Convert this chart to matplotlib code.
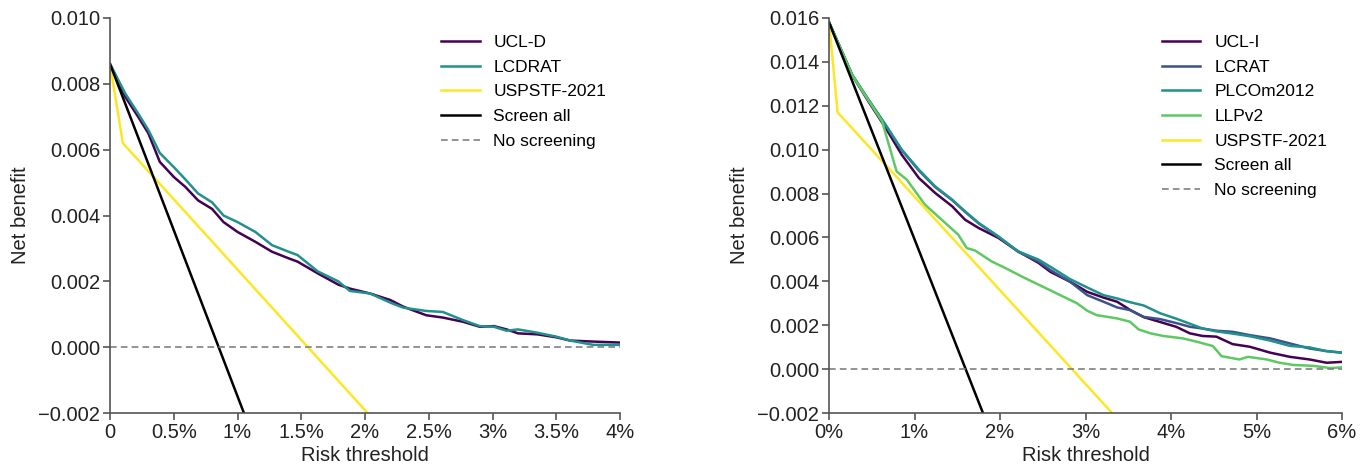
import matplotlib
matplotlib.use("Agg")
import matplotlib.pyplot as plt
from matplotlib.ticker import FuncFormatter

plt.rcParams['font.family'] = ['Liberation Sans', 'DejaVu Sans']

# ---- left panel data (risk threshold in %) ----
x_left = [0, 0.12, 0.22, 0.30, 0.39, 0.50, 0.59, 0.69, 0.80, 0.89, 1.00, 1.14, 1.27,
          1.40, 1.47, 1.63, 1.79, 1.88, 2.04, 2.20, 2.30, 2.48, 2.61, 2.77, 2.90,
          3.01, 3.11, 3.20, 3.35, 3.50, 3.61, 3.79, 4.00]
ucl_d = [0.0086, 0.0076, 0.0070, 0.0065, 0.00563, 0.00517, 0.00487, 0.00446, 0.0042,
         0.0038, 0.0035, 0.0032, 0.0029, 0.0027, 0.0026, 0.00224, 0.0019, 0.00178,
         0.00163, 0.00143, 0.00123, 0.00097, 0.0009, 0.00077, 0.00062, 0.00064,
         0.00054, 0.00042, 0.00039, 0.0003, 0.0002, 0.00017, 0.00014]
lcdrat = [0.0086, 0.0077, 0.0071, 0.0066, 0.0059, 0.00547, 0.0051, 0.00467, 0.0044,
          0.0040, 0.0038, 0.0035, 0.0031, 0.0029, 0.0028, 0.0023, 0.0020, 0.00171,
          0.00163, 0.00135, 0.0012, 0.0011, 0.00107, 0.00082, 0.00064, 0.00062,
          0.0005, 0.00054, 0.00044, 0.00032, 0.0002, 0.00007, 0.00007]
uspstf_left_x = [0, 0.1, 2.02]
uspstf_left = [0.0086, 0.0062, -0.002]
screen_left_x = [0, 1.05]
screen_left = [0.0086, -0.002]

# ---- right panel data ----
x_right = [0, 0.27, 0.46, 0.66, 0.85, 1.05, 1.24, 1.44, 1.59, 1.75, 1.98, 2.21, 2.45,
           2.59, 2.82, 3.02, 3.21, 3.37, 3.52, 3.68, 3.87, 4.06, 4.22, 4.37, 4.53,
           4.72, 4.92, 5.16, 5.39, 5.62, 5.82, 6.0]
ucl_i = [0.0158, 0.0134, 0.0122, 0.0110, 0.00977, 0.00871, 0.00803, 0.00742, 0.00681,
         0.00643, 0.00598, 0.00537, 0.00484, 0.00443, 0.00398, 0.00352, 0.00326,
         0.00307, 0.0027, 0.00237, 0.00215, 0.00193, 0.00163, 0.00151, 0.00148,
         0.00114, 0.00102, 0.00075, 0.00056, 0.00044, 0.00029, 0.00033]
lcrat = [0.0158, 0.0134, 0.01228, 0.01112, 0.00998, 0.00905, 0.0083, 0.0077, 0.00717,
         0.00664, 0.00603, 0.00535, 0.0049, 0.00451, 0.00398, 0.00337, 0.00307,
         0.00281, 0.00269, 0.00238, 0.00228, 0.0021, 0.00193, 0.00185, 0.00175,
         0.0017, 0.00155, 0.0014, 0.00117, 0.00094, 0.00082, 0.00075]
plcom2012 = [0.0158, 0.01342, 0.01228, 0.01114, 0.0100, 0.00909, 0.00833, 0.00772,
             0.00719, 0.00666, 0.00605, 0.00537, 0.00499, 0.00466, 0.0041, 0.00372,
             0.00337, 0.00322, 0.00305, 0.0029, 0.00255, 0.0023, 0.00207, 0.00185,
             0.00172, 0.00162, 0.0015, 0.0013, 0.00106, 0.00099, 0.00082, 0.00075]
llpv2_x = [0, 0.27, 0.46, 0.62, 0.79, 0.91, 1.12, 1.51, 1.61, 1.71, 1.90, 2.06, 2.29,
           2.53, 2.90, 3.02, 3.13, 3.37, 3.52, 3.62, 3.76, 3.91, 4.14, 4.30, 4.49,
           4.59, 4.80, 4.90, 5.12, 5.27, 5.43, 5.66, 5.86, 6.0]
llpv2 = [0.0158, 0.0134, 0.01225, 0.01129, 0.00901, 0.00863, 0.0075, 0.00613, 0.00552,
         0.0054, 0.00491, 0.00461, 0.00415, 0.0037, 0.0030, 0.00266, 0.00246, 0.00231,
         0.00216, 0.00181, 0.00163, 0.00151, 0.0014, 0.00125, 0.00105, 0.00059,
         0.00044, 0.00056, 0.00044, 0.00029, 0.00019, 0.00015, 0.00005, 0.00008]
uspstf_right_x = [0, 0.1, 3.31]
uspstf_right = [0.0158, 0.0117, -0.002]
screen_right_x = [0, 1.8]
screen_right = [0.0158, -0.002]

PURPLE = '#440154'
BLUE = '#3b528b'
TEAL = '#21918c'
GREEN = '#5ec962'
YELLOW = '#fde725'

fig = plt.figure(figsize=(13.69, 4.65), dpi=100)
ax1 = fig.add_axes([0.0804, 0.1118, 0.3725, 0.8495])
ax2 = fig.add_axes([0.6056, 0.1118, 0.3747, 0.8495])

lw = 1.8
ax1.plot(x_left, ucl_d, color=PURPLE, lw=lw, label='UCL-D')
ax1.plot(x_left, lcdrat, color=TEAL, lw=lw, label='LCDRAT')
ax1.plot(uspstf_left_x, uspstf_left, color=YELLOW, lw=lw, label='USPSTF-2021')
ax1.plot(screen_left_x, screen_left, color='black', lw=lw, label='Screen all')
ax1.axhline(0, color='gray', lw=1.2, ls=(0, (4, 2.5)), label='No screening')

ax2.plot(x_right, ucl_i, color=PURPLE, lw=lw, label='UCL-I')
ax2.plot(x_right, lcrat, color=BLUE, lw=lw, label='LCRAT')
ax2.plot(x_right, plcom2012, color=TEAL, lw=lw, label='PLCOm2012')
ax2.plot(llpv2_x, llpv2, color=GREEN, lw=lw, label='LLPv2')
ax2.plot(uspstf_right_x, uspstf_right, color=YELLOW, lw=lw, label='USPSTF-2021')
ax2.plot(screen_right_x, screen_right, color='black', lw=lw, label='Screen all')
ax2.axhline(0, color='gray', lw=1.2, ls=(0, (4, 2.5)), label='No screening')


def pct_left(v, pos):
    if v == 0:
        return '0'
    return ('%g' % v) + '%'


def pct_right(v, pos):
    return ('%g' % v) + '%'


ax1.set_xlim(0, 4)
ax1.set_ylim(-0.002, 0.010)
ax1.set_xticks([0, 0.5, 1, 1.5, 2, 2.5, 3, 3.5, 4])
ax1.xaxis.set_major_formatter(FuncFormatter(pct_left))
ax1.set_yticks([-0.002, 0, 0.002, 0.004, 0.006, 0.008, 0.010])

ax2.set_xlim(0, 6)
ax2.set_ylim(-0.002, 0.016)
ax2.set_xticks([0, 1, 2, 3, 4, 5, 6])
ax2.xaxis.set_major_formatter(FuncFormatter(pct_right))
ax2.set_yticks([-0.002, 0, 0.002, 0.004, 0.006, 0.008, 0.010, 0.012, 0.014, 0.016])

for ax in (ax1, ax2):
    ax.yaxis.set_major_formatter(FuncFormatter(lambda v, p: ('%.3f' % v).replace('-', '\u2212')))
    for s in ('top', 'right'):
        ax.spines[s].set_visible(False)
    for s in ('left', 'bottom'):
        ax.spines[s].set_color('#555555')
        ax.spines[s].set_linewidth(1.2)
    ax.tick_params(labelsize=14.5, colors='#555555', labelcolor='#222222', length=5, width=1.2, pad=2)
    ax.set_xlabel('Risk threshold', fontsize=14.5, color='#222222', labelpad=3)
    ax.set_ylabel('Net benefit', fontsize=14.5, color='#222222', labelpad=6)
    ax.legend(loc='upper left', bbox_to_anchor=(0.636, 0.975), frameon=False, fontsize=12.5,
              handlelength=2.2, handletextpad=0.8, labelspacing=0.55, borderaxespad=0)

fig.savefig('out.png', dpi=100)
